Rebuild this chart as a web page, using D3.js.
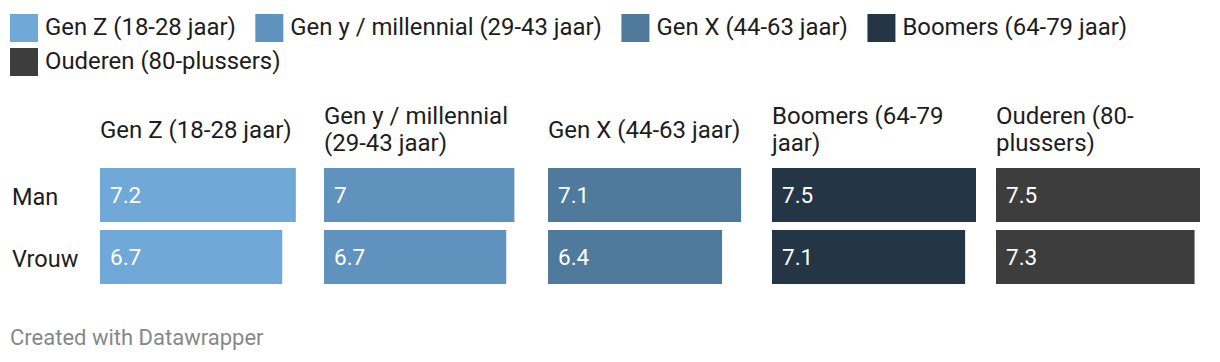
<!DOCTYPE html>
<html>
<head>
<meta charset="utf-8">
<script src="https://cdn.jsdelivr.net/npm/d3@7"></script>
<style>
	body { margin: 0; background: #fff; }
	svg text { font-family: Roboto, "Noto Sans", sans-serif; }
</style>
</head>
<body>
<div id="chart"></div>
<script>

///////////////////////////////////////////////////////////////////////////
//////////////////////////////// The data /////////////////////////////////
///////////////////////////////////////////////////////////////////////////

var generations = ["Gen Z (18-28 jaar)", "Gen y / millennial (29-43 jaar)", "Gen X (44-63 jaar)", "Boomers (64-79 jaar)", "Ouderen (80-plussers)"];
var genders = ["Man", "Vrouw"];
var manValues = [7.2, 7, 7.1, 7.5, 7.5];
var vrouwValues = [6.7, 6.7, 6.4, 7.1, 7.3];
var colors = ["#70a8d7", "#5f92bc", "#4f7a9c", "#243645", "#3d3d3d"];

///////////////////////////////////////////////////////////////////////////
//////////////////////////// Set up the SVG ///////////////////////////////
///////////////////////////////////////////////////////////////////////////

var width = 1220,
	height = 362;

var svg = d3.select("#chart")
	.append("svg")
	.attr("width", width)
	.attr("height", height);

var textColor = "#1d1d1d";

//One panel per generation
var xPanel = d3.scaleBand()
	.domain(generations)
	.range([100, 1200])
	.paddingInner(20/224)
	.paddingOuter(0);

var x = d3.scaleLinear()
	.domain([0, 7.5])
	.range([0, xPanel.bandwidth()]);

var y = d3.scaleBand()
	.domain(genders)
	.range([168, 284])
	.paddingInner(8/62)
	.paddingOuter(0);

var color = d3.scaleOrdinal().domain(generations).range(colors);

///////////////////////////////////////////////////////////////////////////
/////////////////////////////// The legend ////////////////////////////////
///////////////////////////////////////////////////////////////////////////

var legend = svg.append("g").attr("class", "legend");
var lx = 10, ly = 14;
generations.forEach(function(g) {
	var item = legend.append("g");
	item.append("rect")
		.attr("width", 28)
		.attr("height", 28)
		.style("fill", color(g));
	var t = item.append("text")
		.attr("x", 35)
		.attr("y", 14)
		.attr("dy", "0.29em")
		.style("font-size", "23.9px")
		.style("fill", textColor)
		.text(g);
	var w = 35 + t.node().getComputedTextLength();
	if(lx + w > width - 10) { lx = 10; ly += 34; }
	item.attr("transform", "translate(" + lx + "," + ly + ")");
	lx += w + 19.5;
});

///////////////////////////////////////////////////////////////////////////
///////////////////////////// Panel headers ///////////////////////////////
///////////////////////////////////////////////////////////////////////////

//Break a label into lines that fit the panel, at spaces or after hyphens
function wrapLines(textEl, str, maxWidth) {
	var parts = str.match(/[^\s-]+-?\s*/g);
	var lines = [], line = "";
	parts.forEach(function(p) {
		var test = line + p;
		textEl.text(test.trim());
		if(line !== "" && textEl.node().getComputedTextLength() > maxWidth) {
			lines.push(line.trim());
			line = p;
		} else {
			line = test;
		}
	});
	lines.push(line.trim());
	textEl.text(null);
	return lines;
}

var lineHeight = 26.5;
generations.forEach(function(g) {
	var header = svg.append("text")
		.attr("class", "panel-header")
		.style("font-size", "24px")
		.style("fill", textColor);
	var lines = wrapLines(header, g, xPanel.bandwidth());
	var firstBase = 137.5 - (lines.length - 1) * lineHeight / 2;
	lines.forEach(function(l, i) {
		header.append("tspan")
			.attr("x", xPanel(g))
			.attr("y", firstBase + i * lineHeight)
			.text(l);
	});
});

///////////////////////////////////////////////////////////////////////////
/////////////////////////////// Row labels ////////////////////////////////
///////////////////////////////////////////////////////////////////////////

svg.selectAll(".row-label")
	.data(genders)
	.enter().append("text")
	.attr("class", "row-label")
	.attr("x", 12)
	.attr("y", function(d) { return y(d) + y.bandwidth()/2 + 1.5; })
	.attr("dy", "0.35em")
	.style("font-size", "23.5px")
	.style("fill", textColor)
	.text(function(d) { return d; });

///////////////////////////////////////////////////////////////////////////
///////////////////////////////// The bars ////////////////////////////////
///////////////////////////////////////////////////////////////////////////

var barData = [];
generations.forEach(function(g, i) {
	barData.push({gen: g, gender: "Man", value: manValues[i]});
	barData.push({gen: g, gender: "Vrouw", value: vrouwValues[i]});
});

var barGroup = svg.selectAll(".bar-group")
	.data(barData)
	.enter().append("g")
	.attr("class", "bar-group")
	.attr("transform", function(d) { return "translate(" + xPanel(d.gen) + "," + y(d.gender) + ")"; });

barGroup.append("rect")
	.attr("width", function(d) { return x(d.value); })
	.attr("height", y.bandwidth())
	.style("fill", function(d) { return color(d.gen); });

barGroup.append("text")
	.attr("x", 10)
	.attr("y", y.bandwidth()/2)
	.attr("dy", "0.35em")
	.style("font-size", "22.5px")
	.style("fill", "#fff")
	.text(function(d) { return d.value; });

///////////////////////////////////////////////////////////////////////////
//////////////////////////////// The footer ///////////////////////////////
///////////////////////////////////////////////////////////////////////////

svg.append("text")
	.attr("x", 10)
	.attr("y", 337)
	.attr("dy", "0.35em")
	.style("font-size", "22px")
	.style("fill", "#888")
	.text("Created with Datawrapper");

</script>
</body>
</html>
